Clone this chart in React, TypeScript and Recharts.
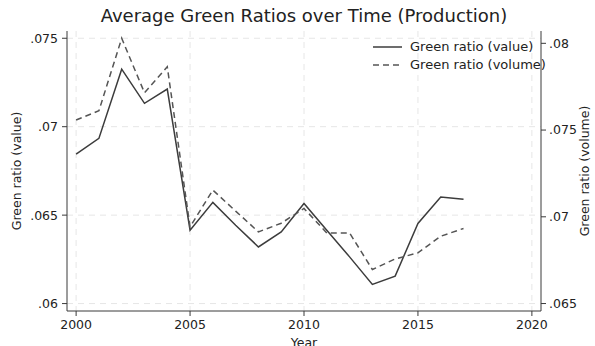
import React from "react";
import {
  LineChart,
  Line,
  XAxis,
  YAxis,
  CartesianGrid,
} from "recharts";

// Production green ratios by year
const years = [
  2000, 2001, 2002, 2003, 2004, 2005, 2006, 2007, 2008,
  2009, 2010, 2011, 2012, 2013, 2014, 2015, 2016, 2017,
];
const ratioValue = [
  0.06845, 0.06934, 0.07325, 0.07132, 0.07213, 0.06415, 0.06572, 0.06443, 0.0632,
  0.06405, 0.06566, 0.06415, 0.06264, 0.06108, 0.06155, 0.06453, 0.06603, 0.0659,
];
const ratioVolume = [
  0.07558, 0.07611, 0.08029, 0.07715, 0.07865, 0.06942, 0.07154, 0.07033, 0.06913,
  0.06963, 0.07048, 0.06907, 0.06907, 0.06696, 0.06757, 0.06792, 0.06888, 0.06933,
];

const yearTicks = [2000, 2005, 2010, 2015, 2020];
const valueTicks = [0.06, 0.065, 0.07, 0.075];
const volumeTicks = [0.065, 0.07, 0.075, 0.08];

const seriesNames = ["Green ratio (value)", "Green ratio (volume)"];

const data = years.map((year, i) => ({
  year,
  value: ratioValue[i],
  volume: ratioVolume[i],
}));

const FONT = "'DejaVu Sans', sans-serif";
const AXIS = "#3a3a3a";
const TEXT = "#222";

// Stata-style ".065" labels without the leading zero
const dropZero = (v: number) => String(v).replace(/^0\./, ".");

const LegendBox = () => (
  <div
    style={{
      position: "absolute",
      left: 371,
      top: 38,
      fontFamily: FONT,
      fontSize: 13,
      color: TEXT,
      lineHeight: "18px",
    }}
  >
    {seriesNames.map((name, i) => (
      <div key={name} style={{ display: "flex", alignItems: "center", whiteSpace: "nowrap" }}>
        <svg width={39} height={18}>
          <line
            x1={2}
            x2={31}
            y1={9}
            y2={9}
            stroke={i === 0 ? "#3c3c3c" : "#555"}
            strokeWidth={1.5}
            strokeDasharray={i === 0 ? undefined : "6 4"}
          />
        </svg>
        <span>{name}</span>
      </div>
    ))}
  </div>
);

export default function App() {
  return (
    <div
      style={{
        position: "absolute",
        left: 0,
        top: 0,
        width: 595,
        height: 346,
        background: "#fff",
        fontFamily: FONT,
      }}
    >
      <div
        style={{
          position: "absolute",
          left: 67,
          width: 474,
          top: 5,
          textAlign: "center",
          whiteSpace: "nowrap",
          fontSize: 18,
          color: TEXT,
          fontFamily: FONT,
        }}
      >
        Average Green Ratios over Time (Production)
      </div>
      <LineChart
        width={595}
        height={346}
        data={data}
        margin={{ top: 31, right: 0, bottom: 0, left: 0 }}
      >
        <CartesianGrid
          yAxisId="left"
          stroke="#e6e6e6"
          strokeDasharray="6 5"
          horizontalValues={valueTicks}
          verticalValues={yearTicks}
        />
        <XAxis
          dataKey="year"
          type="number"
          domain={[1999.6, 2020.4]}
          ticks={yearTicks}
          allowDataOverflow
          height={35}
          tickSize={5}
          tickMargin={4}
          stroke={AXIS}
          tick={{ fill: TEXT, fontSize: 12.5, fontFamily: FONT }}
          label={{
            value: "Year",
            position: "insideBottom",
            offset: -1,
            fill: TEXT,
            fontSize: 12.5,
            fontFamily: FONT,
          }}
        />
        <YAxis
          yAxisId="left"
          orientation="left"
          width={67}
          domain={[0.05958, 0.07541]}
          ticks={valueTicks}
          allowDataOverflow
          tickFormatter={dropZero}
          tickSize={5}
          tickMargin={4}
          stroke={AXIS}
          tick={{ fill: TEXT, fontSize: 12.5, fontFamily: FONT }}
          label={{
            value: "Green ratio (value)",
            angle: -90,
            position: "insideLeft",
            offset: 17,
            style: { textAnchor: "middle" },
            fill: TEXT,
            fontSize: 12.5,
            fontFamily: FONT,
          }}
        />
        <YAxis
          yAxisId="right"
          orientation="right"
          width={54}
          domain={[0.06457, 0.08071]}
          ticks={volumeTicks}
          allowDataOverflow
          tickFormatter={dropZero}
          tickSize={5}
          tickMargin={3}
          stroke={AXIS}
          tick={{ fill: TEXT, fontSize: 12.5, fontFamily: FONT }}
          label={{
            value: "Green ratio (volume)",
            angle: -90,
            position: "insideRight",
            offset: 10,
            style: { textAnchor: "middle" },
            fill: TEXT,
            fontSize: 12.5,
            fontFamily: FONT,
          }}
        />
        <Line
          yAxisId="left"
          dataKey="value"
          type="linear"
          stroke="#3c3c3c"
          strokeWidth={1.5}
          dot={false}
          isAnimationActive={false}
        />
        <Line
          yAxisId="right"
          dataKey="volume"
          type="linear"
          stroke="#555"
          strokeWidth={1.5}
          strokeDasharray="6 4"
          dot={false}
          isAnimationActive={false}
        />
      </LineChart>
      <LegendBox />
    </div>
  );
}
